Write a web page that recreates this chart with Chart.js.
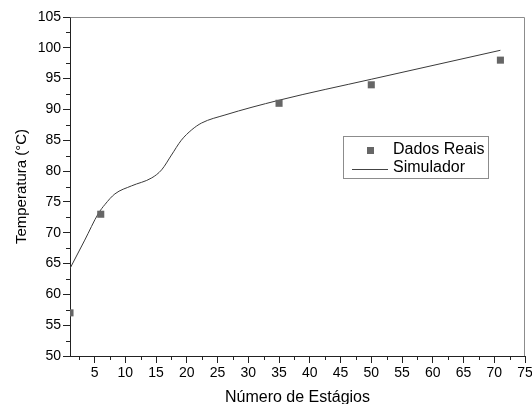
<!DOCTYPE html>
<html><head><meta charset="utf-8">
<script src="https://cdn.jsdelivr.net/npm/chart.js@4"></script>
<style>html,body{margin:0;padding:0;background:#fff}#wrap{width:532px;height:404px;position:relative}</style>
</head><body>
<div id="wrap"><canvas id="c"></canvas></div>
<script>
// ---- data ----
const realStages = [1, 6, 35, 50, 71];
const realTemps  = [57, 73, 91, 94, 98];
const simStages  = [1, 3.4, 5.6, 6.7, 8.3, 11, 14.3, 15.9, 17.5, 19.1, 20.8, 22.4, 26.2, 35, 50, 71];
const simTemps   = [64.2, 68.8, 73.1, 74.6, 76.3, 77.6, 78.9, 80.2, 82.6, 85, 86.7, 87.8, 89.1, 91.5, 94.9, 99.6];
const xTickValues = [5, 10, 15, 20, 25, 30, 35, 40, 45, 50, 55, 60, 65, 70, 75];
const xMinorTicks = [2.5, 7.5, 12.5, 17.5, 22.5, 27.5, 32.5, 37.5, 42.5, 47.5, 52.5, 57.5, 62.5, 67.5, 72.5];
const yTickValues = [50, 55, 60, 65, 70, 75, 80, 85, 90, 95, 100, 105];
const yMinorTicks = [52.5, 57.5, 62.5, 67.5, 72.5, 77.5, 82.5, 87.5, 92.5, 97.5, 102.5];
const seriesNames = ['Dados Reais', 'Simulador'];
const xTitle = 'Número de Estágios';
const yTitle = 'Temperatura (°C)';

const FONT = '"Liberation Sans", Arial, Helvetica, sans-serif';
const AXIS = '#222';

const extras = {
  id: 'extras',
  afterDraw(chart) {
    const {ctx, chartArea: a, scales: {x, y}} = chart;
    ctx.save();
    ctx.lineWidth = 1;
    // minor ticks
    ctx.strokeStyle = AXIS;
    ctx.beginPath();
    xMinorTicks.forEach(v => {
      const px = Math.round(x.getPixelForValue(v)) + 0.5;
      ctx.moveTo(px, a.bottom); ctx.lineTo(px, a.bottom + 4);
    });
    yMinorTicks.forEach(v => {
      const py = Math.round(y.getPixelForValue(v)) + 0.5;
      ctx.moveTo(a.left, py); ctx.lineTo(a.left - 4, py);
    });
    ctx.stroke();
    // top/right frame
    ctx.strokeStyle = '#8c8c8c';
    ctx.beginPath();
    ctx.moveTo(Math.round(a.left) + 0.5, Math.round(a.top) + 0.5);
    ctx.lineTo(Math.round(a.right) - 0.5, Math.round(a.top) + 0.5);
    ctx.lineTo(Math.round(a.right) - 0.5, Math.round(a.bottom));
    ctx.stroke();
    // legend
    const bx = a.left + 273, by = a.top + 119, bw = 145, bh = 42;
    ctx.strokeStyle = '#8c8c8c';
    ctx.fillStyle = '#fff';
    ctx.fillRect(bx, by, bw, bh);
    ctx.strokeRect(bx + 0.5, by + 0.5, bw, bh);
    ctx.fillStyle = '#666';
    ctx.fillRect(bx + 24, by + 11, 7, 7);
    ctx.strokeStyle = '#444';
    ctx.beginPath();
    ctx.moveTo(bx + 9, by + 33.5); ctx.lineTo(bx + 45, by + 33.5);
    ctx.stroke();
    ctx.fillStyle = '#000';
    ctx.font = '16px ' + FONT;
    ctx.textBaseline = 'middle';
    ctx.textAlign = 'left';
    ctx.fillText(seriesNames[0], bx + 50, by + 14);
    ctx.fillText(seriesNames[1], bx + 50, by + 32);
    ctx.restore();
  }
};

new Chart(document.getElementById('c'), {
  type: 'scatter',
  data: {
    datasets: [
      {
        label: seriesNames[0],
        data: realStages.map((s, i) => ({x: s, y: realTemps[i]})),
        pointStyle: 'rect',
        pointRadius: 5,
        pointHoverRadius: 5,
        pointBackgroundColor: '#666',
        pointBorderWidth: 0,
        showLine: false,
        order: 1
      },
      {
        label: seriesNames[1],
        data: simStages.map((s, i) => ({x: s, y: simTemps[i]})),
        showLine: true,
        borderColor: '#3a3a3a',
        borderWidth: 1,
        pointRadius: 0,
        cubicInterpolationMode: 'monotone',
        order: 2
      }
    ]
  },
  options: {
    responsive: true,
    maintainAspectRatio: false,
    animation: false,
    events: [],
    layout: {padding: {top: 17, right: 7, left: 0, bottom: 0}},
    plugins: {legend: {display: false}, tooltip: {enabled: false}},
    scales: {
      x: {
        type: 'linear',
        min: 1, max: 75,
        afterBuildTicks(scale) { scale.ticks = xTickValues.map(v => ({value: v})); },
        afterFit(scale) { scale.height = 48; scale.paddingLeft = 0; scale.paddingRight = 0; },
        ticks: {font: {family: FONT, size: 14}, color: '#000', padding: 2, maxRotation: 0, autoSkip: false},
        grid: {drawOnChartArea: false, drawTicks: true, tickLength: 7, color: AXIS, lineWidth: 1},
        border: {display: true, color: AXIS, width: 1},
        title: {display: true, text: xTitle, font: {family: FONT, size: 16}, color: '#000', padding: {top: 0, bottom: -3}}
      },
      y: {
        type: 'linear',
        min: 50, max: 105,
        afterBuildTicks(scale) { scale.ticks = yTickValues.map(v => ({value: v})); },
        afterFit(scale) { scale.width = 70; scale.paddingTop = 0; scale.paddingBottom = 0; },
        ticks: {font: {family: FONT, size: 14}, color: '#000', padding: 2, autoSkip: false},
        grid: {drawOnChartArea: false, drawTicks: true, tickLength: 7, color: AXIS, lineWidth: 1},
        border: {display: true, color: AXIS, width: 1},
        title: {display: true, text: yTitle, font: {family: FONT, size: 15}, color: '#000', padding: {top: 13, bottom: 0}}
      }
    }
  },
  plugins: [extras]
});
</script>
</body></html>
